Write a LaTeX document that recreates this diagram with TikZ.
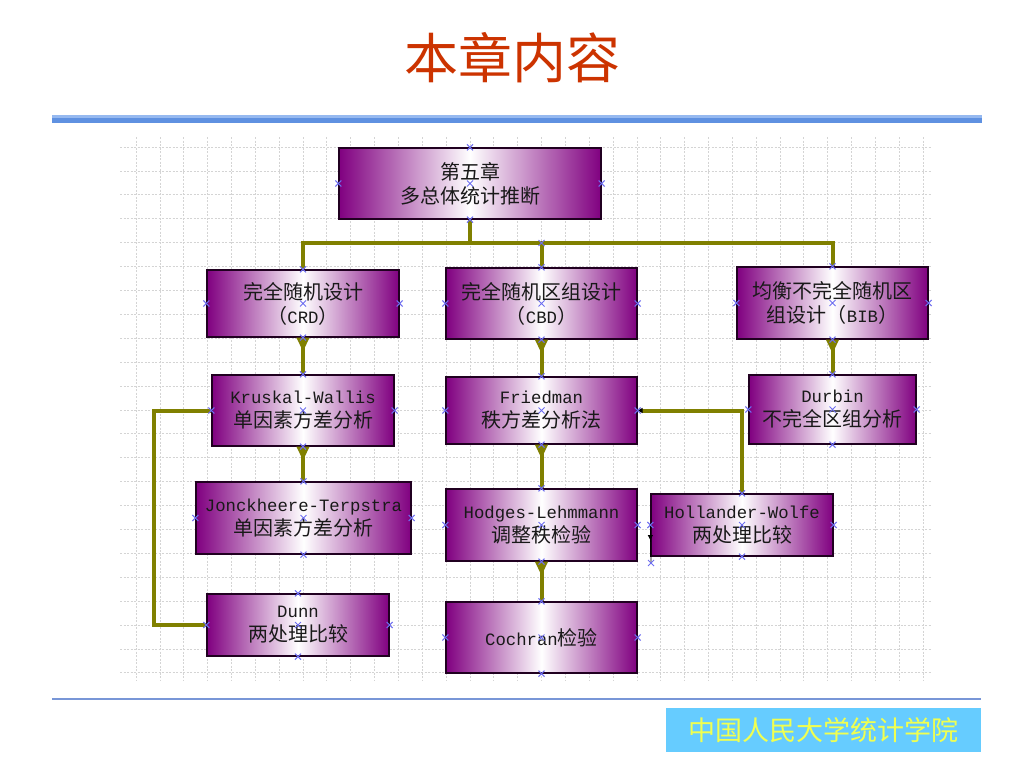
\documentclass[tikz,border=0pt]{standalone}
\usepackage{fontspec}
\setmainfont{Noto Sans CJK SC}
\newfontfamily\latmono{Liberation Mono}
\usetikzlibrary{arrows.meta,shapes.misc}
\definecolor{boxpurple}{RGB}{128,0,128}
\definecolor{olivec}{RGB}{128,128,0}
\definecolor{titlered}{RGB}{204,51,0}
\definecolor{rulelight}{RGB}{150,185,240}
\definecolor{ruledark}{RGB}{95,145,225}
\definecolor{rulebottom}{RGB}{120,150,215}
\definecolor{gridc}{RGB}{212,212,212}
\definecolor{skyb}{RGB}{102,204,255}
\definecolor{yellowt}{RGB}{240,255,80}
\definecolor{xmarkc}{RGB}{110,110,240}
\newcommand{\lw}[1]{{\latmono\fontsize{17.3}{24}\selectfont #1}}
\begin{document}
\begin{tikzpicture}[x=1pt,y=-1pt,
  box/.style={draw=black!75!boxpurple, line width=1.3pt, left color=boxpurple, right color=boxpurple, middle color=white, inner sep=0pt, align=center, font=\fontsize{20}{24}\selectfont, text=black!90},
  conn/.style={draw=olivec, line width=4pt},
  tipd/.style={{Triangle[reversed,length=14pt,width=12pt]}-},
  xm/.style={cross out, draw=xmarkc, line width=1pt, minimum size=5pt, inner sep=0pt},
  gridl/.style={draw=gridc, line width=0.7pt, dash pattern=on 2pt off 1.5pt}]
\fill[white] (0,0) rectangle (1024,768);
\useasboundingbox (0,0) rectangle (1024,768);
% title and rules
\node[text=titlered, font=\fontsize{54}{60}\selectfont] (title) at (512,58) {本章内容};
\fill[rulelight] (52,115) rectangle (982,117.5);
\fill[ruledark] (52,118) rectangle (982,122.5);
\draw[rulebottom, line width=1.2pt] (52,699) -- (981,699);
\node[fill=skyb, minimum width=315pt, minimum height=44pt, inner sep=0pt, text=yellowt, font=\fontsize{27}{30}\selectfont] (school) at (823.5,730) {中国人民大学统计学院};
% grid
\foreach \i in {0,...,33} \draw[gridl] (136+23.85*\i,137) -- (136+23.85*\i,680);
\foreach \j in {0,...,22} \draw[gridl] (120,147+23.9*\j) -- (931,147+23.9*\j);
% boxes
\node[box, minimum width=262pt, minimum height=71pt] (top) at (470,183.5) {第五章\\多总体统计推断};
\node[box, minimum width=192pt, minimum height=67pt] (crd) at (303,303.5) {完全随机设计\\（\lw{CRD}）};
\node[box, minimum width=191pt, minimum height=71pt] (cbd) at (541.5,303.5) {完全随机区组设计\\（\lw{CBD}）};
\node[box, minimum width=191pt, minimum height=72pt] (bib) at (832.5,303) {均衡不完全随机区\\组设计（\lw{BIB}）};
\node[box, minimum width=182pt, minimum height=71pt] (kw) at (303,410.5) {\lw{Kruskal-Wallis}\\单因素方差分析};
\node[box, minimum width=191pt, minimum height=67pt] (fr) at (541.5,410.5) {\lw{Friedman}\\秩方差分析法};
\node[box, minimum width=167pt, minimum height=69pt] (du) at (832.5,409.5) {\lw{Durbin}\\不完全区组分析};
\node[box, minimum width=215pt, minimum height=72pt] (jt) at (303.5,518) {\lw{Jonckheere-Terpstra}\\单因素方差分析};
\node[box, minimum width=191pt, minimum height=72pt] (hl) at (541.5,525) {\lw{Hodges-Lehmmann}\\调整秩检验};
\node[box, minimum width=182pt, minimum height=62pt] (hw) at (742,525) {\lw{Hollander-Wolfe}\\两处理比较};
\node[box, minimum width=182pt, minimum height=62pt] (dn) at (298,625) {\lw{Dunn}\\两处理比较};
\node[box, minimum width=191pt, minimum height=71pt] (co) at (541.5,637.5) {\lw{Cochran}检验};
% connectors
\coordinate (bus) at (470,243);
\draw[conn] (top.south) -- (bus);
\draw[conn] (crd.north) |- (bus) -| (bib.north);
\draw[conn] (cbd.north) -- (cbd.north |- bus);
\draw[conn,tipd] (crd.south) -- (kw.north);
\draw[conn,tipd] (kw.south) -- (kw.south |- jt.north);
\draw[conn,tipd] (cbd.south) -- (fr.north);
\draw[conn,tipd] (fr.south) -- (hl.north);
\draw[conn,tipd] (hl.south) -- (co.north);
\draw[conn,tipd] (bib.south) -- (du.north);
\draw[conn] (kw.west) -- ++(-57,0) |- (dn.west);
\draw[conn,{Triangle[length=5pt,width=5pt,color=black]}-] (fr.east) -| (hw.north);
\coordinate (hwend) at (651,563);
\draw[black, line width=0.8pt] (hw.west) -- (hwend);
\draw[black, line width=0.8pt, -{Triangle[length=5pt,width=5pt]}] (hw.west) -- ++(0,15);
% selection marks
\foreach \n in {top,crd,cbd,bib,kw,fr,du,jt,hl,hw,dn,co}
  \foreach \a in {north,south,east,west,center}
    \node[xm] at (\n.\a) {};
\node[xm] at (cbd.north |- bus) {};
\node[xm] at (hwend) {};
\end{tikzpicture}
\end{document}
